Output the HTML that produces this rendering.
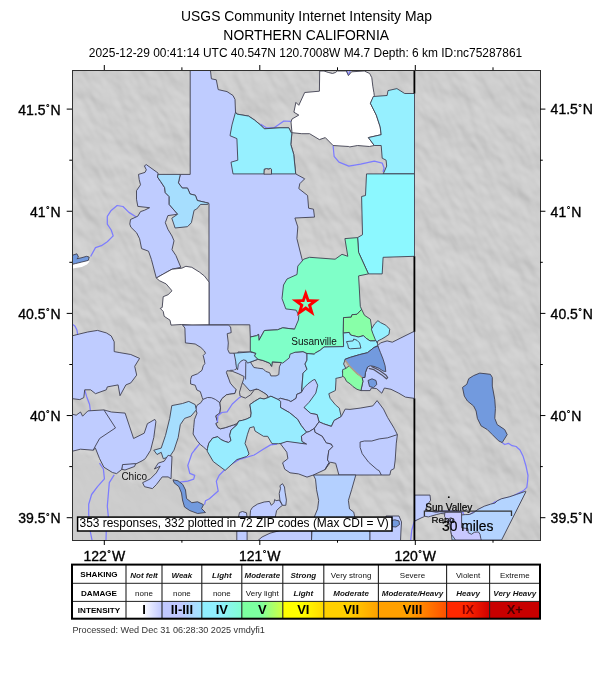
<!DOCTYPE html>
<html><head><meta charset="utf-8"><title>USGS Community Internet Intensity Map</title>
<style>html,body{margin:0;padding:0;background:#fff;} body{width:612px;height:684px;position:relative;overflow:hidden;font-family:"Liberation Sans",Arial,sans-serif;}</style>
</head><body>
<svg width="612" height="684" viewBox="0 0 612 684" style="position:absolute;left:0;top:0"><defs>
<filter id="relief" x="0" y="0" width="100%" height="100%" color-interpolation-filters="sRGB">
 <feTurbulence type="fractalNoise" baseFrequency="0.045 0.028" numOctaves="3" seed="7" result="n"/>
 <feDiffuseLighting in="n" surfaceScale="3" lighting-color="#ffffff" diffuseConstant="1" result="l">
   <feDistantLight azimuth="315" elevation="50"/>
 </feDiffuseLighting>
 <feColorMatrix in="l" type="matrix" values="0.2 0 0 0 0.652  0.2 0 0 0 0.652  0.2 0 0 0 0.652  0 0 0 0 1"/>
</filter>
<pattern id="hs" patternUnits="userSpaceOnUse" x="0" y="0" width="612" height="684">
 <rect x="72" y="70" width="468" height="470" fill="#cccccc"/>
 <g transform="rotate(-28 306 305)"><rect x="-60" y="-60" width="732" height="732" filter="url(#relief)" opacity="1"/></g>
 <polygon points="72,452 100,462 140,488 172,476 200,500 228,540 72,540" fill="#cccccc" opacity="0.75"/>
</pattern>
<clipPath id="mapclip"><rect x="72" y="70" width="468" height="470"/></clipPath>
</defs><rect x="0" y="0" width="612" height="684" fill="#ffffff"/><g clip-path="url(#mapclip)"><rect x="72" y="70" width="468" height="470" fill="url(#hs)"/><polyline points="136.7,217.3 128.9,212.4 123.0,206.5 117.1,205.5 111.2,210.4 107.3,216.3 107.3,224.1 111.2,230.0 113.2,235.9 107.3,241.8 101.4,245.7 95.5,247.6 90.6,256.5" fill="none" stroke="#7c7cff" stroke-width="1.25" stroke-linejoin="round"/><polyline points="346.8,70.0 348.4,75.6 350.5,70.0" fill="none" stroke="#7c7cff" stroke-width="1.25" stroke-linejoin="round"/><polyline points="260.4,123.9 266.3,127.8 274.1,127.8 283.9,121.0 290.8,121.4" fill="none" stroke="#7c7cff" stroke-width="1.25" stroke-linejoin="round"/><polyline points="333.1,145.5 334.1,156.3 339.0,162.2 348.8,166.1 360.6,164.1 374.3,161.2 382.2,163.1 384.1,168.0 383.1,172.0" fill="none" stroke="#7c7cff" stroke-width="1.25" stroke-linejoin="round"/><polyline points="99.5,463.1 103.4,469.0 104.4,478.8 97.5,486.7 91.6,494.5 88.7,504.3 88.7,514.1 90.0,530.0 92.0,540.0" fill="none" stroke="#7c7cff" stroke-width="1.25" stroke-linejoin="round"/><polyline points="114.2,474.9 109.3,482.7 108.3,494.5 107.3,506.3 108.3,516.1 106.3,529.8 106.0,540.0" fill="none" stroke="#7c7cff" stroke-width="1.25" stroke-linejoin="round"/><polyline points="194.4,450.0 199.6,443.9 191.8,453.7 187.8,465.5 189.8,473.3 194.7,475.3 193.7,479.2 187.8,481.2 180.0,482.2" fill="none" stroke="#7c7cff" stroke-width="1.25" stroke-linejoin="round"/><polyline points="277.1,444.1 270.6,444.9 262.4,449.8 254.2,455.0 238.8,459.6 229.0,465.5 219.2,475.3 216.3,481.2 218.2,491.0 209.4,498.8 205.5,500.8 204.5,504.7" fill="none" stroke="#7c7cff" stroke-width="1.25" stroke-linejoin="round"/><polyline points="502.2,442.6 504.7,444.5 508.4,443.3 512.1,445.7 516.1,446.5 520.0,450.0 523.2,456.6 526.0,466.0 528.0,475.5 527.5,482.0 526.8,487.4 523.2,490.9 511.4,496.9 501.9,499.2 494.8,502.1 490.0,505.2 480.6,508.7 471.1,513.5 468.6,515.1 464.0,515.8 462.9,512.3 452.3,511.0 447.4,511.1 440.3,511.1 433.2,512.3 426.1,513.5 419.0,517.1 414.2,521.8 411.8,530.0 410.7,540.0" fill="none" stroke="#7c7cff" stroke-width="1.25" stroke-linejoin="round"/><polyline points="72.0,324.1 74.9,326.1 76.9,330.0 77.9,335.9 75.9,339.8" fill="none" stroke="#7c7cff" stroke-width="1.25" stroke-linejoin="round"/><polyline points="84.7,389.8 86.7,396.7 89.6,404.5 90.6,412.4" fill="none" stroke="#7c7cff" stroke-width="1.25" stroke-linejoin="round"/><polygon points="190.2,70.0 210.4,70.0 211.4,78.8 216.3,79.8 218.2,89.6 227.0,91.6 233.0,95.5 235.0,99.4 235.5,112.2 236.9,114.1 248.6,116.1 254.5,120.0 260.4,124.9 264.3,128.8 280.0,127.8 288.8,127.8 291.8,133.7 290.8,144.5 293.7,154.3 295.7,173.9 304.7,178.8 299.8,183.7 298.8,188.6 307.6,195.5 308.6,208.2 313.5,209.2 314.5,217.1 294.9,218.0 297.8,226.9 296.9,238.6 301.8,258.2 305.0,270.0 305.0,325.0 294.5,329.2 282.7,327.8 277.5,329.8 264.4,330.5 259.0,340.3 258.6,334.4 256.6,335.7 250.3,337.0 249.8,324.8 209.0,324.8 209.0,203.5 208.4,203.1 205.8,202.5 197.3,200.5 195.4,195.3 190.1,194.0 187.5,188.1 182.3,188.1 178.4,182.9 180.3,174.4 190.2,174.4" fill="#bfccff" stroke="#404050" stroke-width="0.9" stroke-linejoin="round"/><polygon points="146.3,164.6 158.1,173.1 157.5,177.0 160.7,181.6 164.6,187.5 165.3,192.7 169.2,196.6 169.2,204.4 173.1,209.0 177.7,214.2 167.9,215.6 165.3,222.7 167.9,229.3 172.0,236.0 174.0,240.8 172.0,249.6 175.9,255.5 180.8,267.3 172.0,269.2 163.2,274.1 156.3,278.0 151.4,259.4 148.5,251.2 141.6,248.6 139.6,238.8 136.7,232.9 130.8,227.1 129.8,224.1 130.5,219.5 137.8,216.2 140.5,211.6 144.4,210.3 149.6,207.7 137.8,206.4 136.5,199.2 136.5,190.7 140.5,184.8 139.2,179.6 138.5,174.4 145.0,172.4 146.3,169.8 144.4,165.9" fill="#bfccff" stroke="#404050" stroke-width="0.9" stroke-linejoin="round"/><polygon points="158.1,174.4 180.3,174.4 178.4,182.9 182.3,188.1 187.5,188.1 190.1,194.0 195.4,195.3 197.3,200.5 205.8,202.5 208.4,203.1 207.8,204.4 200.6,204.4 196.7,209.0 194.1,210.3 191.4,222.7 187.5,226.7 175.1,228.0 171.8,218.2 177.7,214.2 173.1,209.0 169.2,204.4 169.2,196.6 165.3,192.7 164.6,187.5 160.7,181.6 157.5,177.0" fill="#a6defe" stroke="#404050" stroke-width="0.9" stroke-linejoin="round"/><polygon points="235.5,112.2 236.9,114.1 248.6,116.1 254.5,120.0 260.4,124.9 264.3,128.8 280.0,127.8 288.8,127.8 291.8,133.7 290.8,144.5 293.7,154.3 295.7,173.9 271.2,173.9 271.2,169.0 264.3,169.0 264.3,173.9 233.0,173.9 231.0,162.2 237.8,160.2 236.9,138.6 230.0,135.7 232.0,124.9" fill="#96f0ff" stroke="#404050" stroke-width="0.9" stroke-linejoin="round"/><polygon points="264.0,174.2 264.3,169.5 266.5,168.6 268.5,169.2 270.5,168.4 271.5,169.5 271.5,174.2" fill="url(#hs)" stroke="#404050" stroke-width="0.9" stroke-linejoin="round"/><polygon points="319.7,71.0 324.0,71.0 328.2,72.4 332.5,73.5 335.7,72.4 337.2,71.0 346.3,71.0 348.4,75.6 351.6,71.8 364.3,71.0 369.7,73.5 371.8,77.7 372.8,86.2 373.9,92.6 374.3,95.5 370.4,103.3 376.3,115.1 380.2,126.9 381.2,134.7 368.4,137.6 374.3,145.5 369.4,146.5 357.6,145.5 349.8,146.9 348.8,146.5 333.1,145.5 325.3,137.6 319.4,139.6 309.6,133.7 301.8,133.7 292.0,132.7 291.0,122.0 292.0,119.0 298.8,115.1 293.9,112.2 295.9,102.4 298.8,105.3 304.7,92.5 319.4,91.2" fill="#ffffff" stroke="#404050" stroke-width="0.9" stroke-linejoin="round"/><polygon points="370.4,103.3 373.3,96.5 387.1,95.5 388.0,90.6 396.9,88.6 404.7,93.5 414.5,93.5 414.5,173.9 383.1,173.9 384.1,172.0 386.7,166.1 386.1,160.2 382.2,158.2 381.2,145.5 374.3,145.5 368.4,137.6 381.2,134.7 380.2,126.9 376.3,115.1" fill="#96f0ff" stroke="#404050" stroke-width="0.9" stroke-linejoin="round"/><polygon points="366.5,173.9 414.5,173.9 414.5,256.3 383.1,257.3 382.2,273.9 368.4,273.9 358.6,252.4 357.6,237.6 362.5,234.7 361.6,196.5 365.5,195.5" fill="#8cf8ff" stroke="#404050" stroke-width="0.9" stroke-linejoin="round"/><polygon points="156.3,278.0 163.2,274.1 172.0,269.2 181.8,268.2 185.9,266.3 191.8,267.3 199.6,272.2 204.5,276.1 209.0,282.0 209.0,324.8 192.0,325.1 181.8,324.5 171.0,325.1 170.0,320.2 164.2,316.3 163.2,311.4 160.2,308.4 162.2,307.5 163.2,296.7 168.1,294.7 172.0,290.8 166.1,283.9 159.3,280.6" fill="#ffffff" stroke="#404050" stroke-width="0.9" stroke-linejoin="round"/><polygon points="72.0,262.5 81.8,261.0 88.3,259.4 89.5,261.5 87.0,264.4 81.8,266.9 75.3,267.9 72.0,268.7" fill="#ffffff"/><polygon points="72.0,255.4 76.9,253.8 78.5,257.1 76.9,258.7 81.0,257.9 86.7,256.3 89.2,257.1 88.3,260.4 81.8,262.0 75.3,263.6 72.0,264.4" fill="#729ade" stroke="#404050" stroke-width="0.9" stroke-linejoin="round"/><polygon points="238.0,352.0 290.0,352.0 295.2,352.2 303.1,351.6 307.0,353.5 307.0,360.1 305.0,364.0 307.0,369.2 303.1,373.1 302.4,381.0 301.4,392.4 296.8,394.4 296.1,398.3 290.9,401.6 288.3,400.3 283.1,399.0 280.5,398.3 278.1,399.5 270.9,396.2 268.3,397.5 267.0,394.9 263.1,392.3 256.5,389.0 250.0,391.0 240.0,380.0 238.0,370.0" fill="#b4d0ff" stroke="#404050" stroke-width="0.9" stroke-linejoin="round"/><polygon points="182.6,325.1 228.3,325.1 230.6,326.9 231.2,332.6 227.2,333.7 228.3,342.9 227.8,349.7 229.5,353.2 234.1,353.2 235.8,357.7 236.3,364.6 237.5,368.0 234.1,370.3 230.6,370.3 227.2,372.6 228.3,377.2 231.8,381.8 234.1,386.3 236.2,389.6 234.9,393.5 229.7,394.2 226.4,394.8 221.8,398.8 219.9,402.7 220.5,407.9 219.9,413.1 215.9,415.8 216.6,419.0 217.9,422.3 215.9,423.6 217.9,427.5 220.5,428.8 225.8,427.5 229.7,426.2 233.6,424.9 236.9,424.9 231.0,430.1 229.7,435.4 231.0,440.6 228.4,442.5 224.4,441.2 220.5,439.3 217.9,436.7 212.7,438.0 208.8,443.2 207.5,448.4 206.8,450.0 203.5,447.1 200.3,444.5 197.0,440.6 193.1,434.0 193.7,427.5 194.4,419.7 197.0,413.1 195.7,409.2 197.0,405.3 200.9,402.7 202.9,399.4 202.2,397.5 200.3,391.6 196.9,390.0 195.2,385.2 190.6,384.0 190.6,379.5 191.7,376.0 197.5,373.8 202.0,370.3 203.2,365.8 204.9,363.5 204.3,360.0 203.2,355.5 205.5,353.2 204.3,350.9 200.9,347.5 195.2,344.0 185.4,342.9 184.9,328.0" fill="#bfccff" stroke="#404050" stroke-width="0.9" stroke-linejoin="round"/><polygon points="236.5,366.0 239.3,361.2 241.3,359.2 244.2,359.6 246.2,362.1 245.6,379.5 243.4,379.8 244.1,376.5 238.8,373.9 232.3,371.3 234.1,370.3 237.3,370.2" fill="#bfccff"/><polygon points="250.5,362.3 253.5,361.0 257.9,359.3 263.1,360.6 269.7,363.2 271.6,366.3 272.3,362.0 281.4,362.6 279.4,366.8 278.8,374.6 276.1,375.9 270.9,375.9 269.6,372.7 265.7,371.4 263.1,368.8 257.8,368.1 253.9,367.5" fill="url(#hs)" stroke="#404050" stroke-width="0.9" stroke-linejoin="round"/><polygon points="226.4,372.6 227.1,370.7 232.3,371.3 238.8,373.9 244.1,376.5 243.4,379.8 241.4,385.7 239.5,392.2 240.1,396.1 245.4,398.1 250.6,394.8 254.5,389.6 258.0,389.3 263.1,392.3 267.0,394.9 268.3,397.5 264.0,399.0 260.0,398.1 254.5,401.4 249.9,404.6 251.2,413.1 250.6,417.1 246.7,419.0 242.7,420.3 238.8,421.0 236.9,423.6 233.6,424.9 229.7,426.2 225.8,427.5 220.5,428.8 217.9,427.5 215.9,423.6 217.9,422.3 216.6,419.0 215.9,415.8 219.9,413.1 220.5,407.9 219.9,402.7 221.8,398.8 226.4,394.8 229.7,394.2 234.9,393.5 236.2,389.6 233.6,387.0 230.3,383.1 228.4,377.8" fill="url(#hs)" stroke="#404050" stroke-width="0.9" stroke-linejoin="round"/><polygon points="234.1,353.2 250.1,352.0 255.9,353.3 254.6,355.9 257.9,359.2 252.7,361.2 247.5,363.1 246.1,360.5 243.5,359.9 240.9,361.2 238.3,364.4 237.6,369.7 236.3,367.1 235.8,361.8" fill="#a6defe" stroke="#404050" stroke-width="0.9" stroke-linejoin="round"/><polygon points="297.8,266.1 303.7,259.2 309.6,257.3 335.1,259.2 342.0,254.3 347.8,256.3 344.9,238.6 357.6,237.6 358.6,252.4 368.4,273.9 358.6,275.9 359.5,292.0 360.3,306.3 361.6,309.4 357.0,314.3 352.0,314.7 351.2,317.2 343.5,317.6 343.3,333.1 343.6,346.6 333.1,347.0 324.0,347.0 320.1,350.3 315.5,352.9 314.2,354.2 307.0,353.5 303.1,351.6 295.2,352.2 290.0,354.2 289.3,357.9 282.7,363.1 281.4,362.5 272.3,361.8 271.6,366.4 269.7,363.1 263.1,360.5 257.9,359.2 254.6,355.9 255.9,353.3 250.3,351.4 250.3,337.0 256.6,335.7 258.6,334.4 259.0,340.3 264.4,330.5 277.5,329.8 282.7,327.8 294.5,329.2 298.4,320.0 298.8,315.4 296.2,310.2 285.8,308.9 282.0,298.5 283.5,285.0 287.0,279.0 297.0,274.5" fill="#7fffc8" stroke="#404050" stroke-width="0.9" stroke-linejoin="round"/><polygon points="343.5,317.6 351.2,317.2 352.0,314.7 357.0,314.3 361.6,309.4 364.5,315.3 370.4,319.2 372.0,329.8 374.0,333.1 376.6,338.3 375.3,340.9 370.1,340.9 366.1,338.3 363.5,335.7 358.3,337.0 355.7,336.3 350.5,335.0 349.2,332.4 343.3,333.1" fill="#88ffa8" stroke="#404050" stroke-width="0.9" stroke-linejoin="round"/><polygon points="307.0,353.5 314.2,354.2 315.5,352.9 320.1,350.3 324.0,347.0 343.6,346.6 343.3,333.1 349.2,332.4 350.5,335.0 355.7,336.3 358.3,337.0 363.5,335.7 366.1,338.3 370.1,340.9 375.3,340.9 376.6,338.3 377.3,342.9 377.9,345.5 374.0,347.5 367.5,352.7 359.6,354.6 350.5,357.3 345.2,359.2 343.6,364.0 346.2,369.2 342.3,371.8 344.9,375.1 341.6,377.1 335.8,378.4 336.0,380.0 335.4,390.5 328.8,393.7 330.1,398.3 335.4,404.8 339.3,408.1 341.2,416.6 334.1,420.5 331.4,426.4 323.6,423.8 319.0,421.8 317.1,414.6 310.5,413.3 304.0,407.5 301.4,392.4 301.8,391.4 302.4,381.0 303.1,373.1 307.0,369.2 305.0,364.0 307.0,360.1" fill="#96f0ff" stroke="#404050" stroke-width="0.9" stroke-linejoin="round"/><polygon points="346.5,341.6 353.1,340.9 353.7,339.0 357.0,340.3 359.6,342.9 360.9,348.1 350.5,348.8 348.5,348.1 347.8,344.8" fill="#96f0ff" stroke="#404050" stroke-width="0.9" stroke-linejoin="round"/><polygon points="377.9,320.7 380.5,322.6 385.8,325.2 389.7,329.2 389.0,334.4 385.1,337.0 381.8,339.0 377.9,340.9 377.3,342.9 375.3,339.6 372.7,333.1 371.4,329.2 374.6,323.9" fill="#96f0ff" stroke="#404050" stroke-width="0.9" stroke-linejoin="round"/><polygon points="377.9,345.5 380.5,342.9 387.1,340.9 392.3,342.2 400.1,338.3 413.2,331.8 414.5,331.8 414.5,398.4 405.4,397.1 398.8,393.2 391.0,389.3 384.4,388.0 381.8,393.2 376.6,388.6 371.4,388.0 370.1,390.6 360.9,390.6 362.9,381.4 362.2,377.5 364.8,377.5 365.5,372.3 367.5,367.1 375.0,360.0 378.0,350.0" fill="#bfccff" stroke="#404050" stroke-width="0.9" stroke-linejoin="round"/><polygon points="342.6,369.7 345.9,368.4 349.2,365.8 355.7,372.3 362.2,377.5 362.9,381.4 360.9,390.6 357.0,389.3 353.1,386.7 350.5,384.1 346.5,381.4 344.6,377.5 342.6,376.2" fill="#88ffa8" stroke="#404050" stroke-width="0.9" stroke-linejoin="round"/><polygon points="345.2,359.2 350.5,357.3 359.6,354.6 367.5,352.7 374.0,347.5 377.9,346.1 380.5,352.7 383.1,359.2 385.1,365.8 385.8,371.6 383.1,371.0 379.2,368.4 374.0,366.4 370.1,365.8 367.5,367.1 365.5,372.3 364.8,377.5 362.2,377.5 355.7,372.3 349.2,365.8 345.2,360.5" fill="#729ade" stroke="#404050" stroke-width="0.9" stroke-linejoin="round"/><polygon points="368.0,380.5 372.0,378.8 376.0,380.5 376.8,384.5 373.5,387.6 369.5,386.5" fill="#729ade" stroke="#404050" stroke-width="0.9" stroke-linejoin="round"/><polygon points="315.0,379.5 317.7,385.2 315.8,393.1 309.2,402.2 304.0,407.5 310.5,413.3 317.1,414.6 319.0,421.8 314.4,428.4 309.2,431.6 306.6,432.3 301.4,425.8 297.5,419.2 289.6,412.7 280.5,407.5 277.8,399.6 280.5,398.3 283.1,399.0 288.3,400.3 290.9,401.6 296.1,398.3 296.8,394.4 301.4,392.4 304.0,387.8 307.9,383.9 313.1,380.0" fill="#bfccff" stroke="#404050" stroke-width="0.9" stroke-linejoin="round"/><polygon points="236.9,424.9 238.8,421.0 242.7,420.3 246.7,419.0 250.6,417.1 251.2,413.1 249.9,404.6 254.5,401.4 260.0,398.1 264.0,399.0 268.3,397.5 270.9,396.2 278.1,399.5 280.7,401.4 280.5,407.5 289.6,412.7 297.5,419.2 301.4,425.8 306.6,432.3 301.4,436.2 302.0,441.4 306.6,444.1 288.9,442.7 278.3,443.7 272.0,443.7 267.7,436.3 263.5,436.3 255.0,431.0 253.9,426.7 249.7,427.8 247.5,434.2 245.0,443.5 247.0,448.0 249.0,454.0 246.5,456.5 236.9,459.6 225.1,470.4 213.3,461.6 207.2,451.2 207.5,448.4 208.8,443.2 212.7,438.0 217.9,436.7 220.5,439.3 224.4,441.2 228.4,442.5 231.0,440.6 229.7,435.4 231.0,430.1" fill="#98ecff" stroke="#404050" stroke-width="0.9" stroke-linejoin="round"/><polygon points="306.6,432.3 309.2,431.6 314.4,428.4 315.1,432.3 322.3,436.2 326.2,442.7 331.4,444.1 332.7,446.7 328.8,450.6 327.5,460.0 329.3,462.2 325.0,469.6 313.4,475.0 307.0,477.1 298.5,473.9 290.0,472.8 284.7,469.2 282.6,462.8 287.9,458.6 286.8,452.2 280.4,443.7 287.0,441.4 306.6,444.1 302.0,441.4 301.4,436.2" fill="#bfccff" stroke="#404050" stroke-width="0.9" stroke-linejoin="round"/><polygon points="314.4,428.4 319.0,421.8 323.6,423.8 331.4,426.4 334.1,420.5 341.2,416.6 345.2,409.1 350.0,409.4 360.1,408.1 372.8,405.9 377.1,400.6 383.5,409.1 387.7,417.6 394.1,428.2 397.4,434.6 396.3,443.1 395.2,460.1 394.1,468.6 390.9,470.3 389.8,475.0 338.9,475.0 335.7,463.3 330.4,462.2 325.0,469.6 329.3,462.2 327.5,460.0 328.8,450.6 332.7,446.7 331.4,444.1 326.2,442.7 322.3,436.2 315.1,432.3" fill="#bfccff" stroke="#404050" stroke-width="0.9" stroke-linejoin="round"/><polygon points="313.4,475.0 355.8,475.0 351.6,489.8 348.4,500.4 349.5,508.9 353.7,512.1 355.0,518.0 370.0,530.0 370.0,541.0 311.5,541.0 312.0,530.0 313.0,520.0 317.6,508.9 318.7,500.4 316.6,489.8 315.5,479.2" fill="#b4d0ff" stroke="#404050" stroke-width="0.9" stroke-linejoin="round"/><polygon points="236.8,530.0 247.1,530.0 247.1,541.0 236.8,541.0" fill="#bfccff" stroke="#404050" stroke-width="0.9" stroke-linejoin="round"/><polygon points="282.0,530.0 311.5,530.0 311.5,541.0 257.4,541.0 262.0,537.0 270.0,533.2" fill="#bfccff" stroke="#404050" stroke-width="0.9" stroke-linejoin="round"/><polygon points="370.0,530.0 386.0,530.0 386.0,516.0 399.0,516.0 401.5,522.0 401.0,530.0 400.5,541.0 370.0,541.0" fill="#bfccff" stroke="#404050" stroke-width="0.9" stroke-linejoin="round"/><polygon points="389.0,523.0 391.0,520.5 395.0,519.8 399.0,521.0 399.5,524.5 396.0,527.0 391.0,526.5" fill="#729ade" stroke="#404050" stroke-width="0.9" stroke-linejoin="round"/><polygon points="72.0,335.9 79.8,333.9 87.7,332.0 97.5,330.4 106.3,332.9 111.2,335.9 114.2,341.8 114.2,351.6 119.1,352.5 130.8,354.5 139.6,358.4 134.7,366.3 136.7,375.1 130.8,382.9 125.9,384.9 120.0,395.7 118.1,384.9 107.3,386.9 106.3,389.8 95.5,393.7 90.6,389.8 84.7,389.8 83.8,397.6 79.8,399.6 72.0,398.6" fill="#bfccff" stroke="#404050" stroke-width="0.9" stroke-linejoin="round"/><polygon points="72.0,414.1 76.2,415.2 80.5,412.0 82.6,416.2 87.9,410.9 103.9,409.9 111.3,412.0 125.1,413.1 133.6,438.5 144.2,433.2 147.4,423.7 154.8,419.4 155.9,421.6 153.8,437.5 150.6,450.2 145.3,458.7 142.1,460.8 135.7,464.0 123.0,465.1 121.9,469.3 116.6,473.6 112.4,472.5 103.9,467.2 99.6,458.7 95.4,448.1 93.2,450.2 80.5,449.2 72.0,451.3" fill="#bfccff" stroke="#404050" stroke-width="0.9" stroke-linejoin="round"/><polygon points="122.5,464.6 135.7,463.6 134.5,466.5 125.0,470.0 121.9,469.3" fill="#bfccff" stroke="#404050" stroke-width="0.9" stroke-linejoin="round"/><polygon points="153.8,450.2 161.2,448.1 165.5,435.4 169.7,418.4 171.8,405.6 182.5,403.5 188.8,401.4 195.2,404.6 196.3,409.9 190.9,416.2 184.6,418.4 180.3,424.7 178.2,437.5 174.0,450.2 169.7,456.6 163.3,458.7 161.2,452.3 157.0,454.5" fill="#a6defe" stroke="#404050" stroke-width="0.9" stroke-linejoin="round"/><polygon points="142.6,482.7 150.4,478.8 156.3,472.9 160.2,466.1 154.4,469.0 158.3,463.1 164.2,461.2 168.1,455.3 172.0,456.3 171.0,478.8 168.1,476.9 162.2,476.9 156.3,484.7 152.4,488.6 144.5,486.7" fill="#bfccff" stroke="#404050" stroke-width="0.9" stroke-linejoin="round"/><polygon points="173.0,479.8 178.0,480.8 182.8,484.5 185.5,490.0 186.5,498.5 191.8,502.7 197.6,501.8 203.5,504.7 201.6,508.6 205.5,512.5 197.6,513.5 189.8,510.6 184.5,507.0 182.5,500.0 181.5,493.0 178.9,486.7 174.0,482.7" fill="#729ade" stroke="#404050" stroke-width="0.9" stroke-linejoin="round"/><polygon points="250.5,510.5 252.5,507.3 257.7,504.0 264.2,502.0 269.4,501.4 271.4,505.3 274.0,502.7 274.7,499.4 276.0,500.7 279.2,500.1 282.5,505.3 279.9,507.3 276.6,510.5 275.3,517.0 250.0,517.0" fill="#bfccff" stroke="#404050" stroke-width="0.9" stroke-linejoin="round"/><polygon points="238.5,517.0 239.5,512.5 242.5,511.5 246.5,512.8 247.0,517.0" fill="#bfccff" stroke="#404050" stroke-width="0.9" stroke-linejoin="round"/><polygon points="279.9,485.7 282.5,483.7 284.5,487.0 285.1,492.2 286.4,500.1 285.8,505.3 282.5,505.3 279.9,500.1 279.2,493.5 280.5,488.3" fill="#bccfff" stroke="#404050" stroke-width="0.9" stroke-linejoin="round"/><polygon points="462.5,387.4 464.3,396.1 467.4,401.0 473.6,406.0 476.1,411.0 477.4,418.4 481.1,425.9 487.3,429.6 492.3,434.6 498.5,440.8 502.2,442.6 507.2,434.6 504.7,429.6 497.2,424.6 494.8,418.4 495.4,408.5 494.8,399.8 492.3,386.1 492.3,377.4 490.4,374.3 479.8,373.1 473.6,375.6 468.7,378.7 466.8,384.3" fill="#729ade" stroke="#404050" stroke-width="0.9" stroke-linejoin="round"/><polygon points="461.0,515.0 465.2,514.6 469.5,514.5 473.7,512.6 478.0,509.4 484.3,506.2 490.7,504.1 495.0,503.0 497.1,500.9 501.3,498.8 509.8,496.7 516.2,494.5 525.5,491.3 526.0,491.6 501.6,540.0 452.0,540.0 451.0,531.0 455.8,527.7 460.3,527.7 460.9,518.6" fill="#b4d4ff" stroke="#404050" stroke-width="0.9" stroke-linejoin="round"/><polygon points="414.6,495.1 430.0,495.1 430.6,500.3 428.9,502.6 427.2,504.9 425.4,510.6 430.0,511.2 436.3,512.3 439.7,511.7 444.9,512.3 447.7,512.3 446.0,514.0 440.9,513.5 436.3,514.6 430.6,516.3 428.3,516.9 424.9,516.3 421.0,518.0 418.0,519.5 414.6,521.0" fill="#bfccff" stroke="#404050" stroke-width="0.9" stroke-linejoin="round"/><polygon points="444.9,512.3 461.6,512.3 461.6,527.8 468.0,528.6 468.2,532.7 471.5,534.3 474.3,532.3 478.4,531.9 480.0,534.3 480.8,538.4 481.2,540.0 455.5,540.0 451.4,534.3 450.6,530.2 449.8,523.7 446.5,519.6 444.5,516.3" fill="#c8c8ff" stroke="#404050" stroke-width="0.9" stroke-linejoin="round"/><polyline points="202.9,399.4 207.5,397.5 211.4,397.7 215.3,399.4 219.9,402.7" fill="none" stroke="#404050" stroke-width="0.9" stroke-linejoin="round"/><polyline points="245.8,361.5 245.6,379.5" fill="none" stroke="#404050" stroke-width="0.9" stroke-linejoin="round"/><polyline points="368.8,368.4 374.0,369.7 381.8,374.9 386.4,378.8 387.7,377.5 385.8,374.9 379.2,370.3 371.4,366.4" fill="none" stroke="#505060" stroke-width="1.2" stroke-linejoin="round"/><polyline points="345.2,360.5 349.2,365.8 355.7,372.3 362.2,377.5" fill="none" stroke="#b4a08c" stroke-width="1.6" stroke-linejoin="round"/><polyline points="360.1,447.3 360.1,442.0 364.3,441.0 371.8,441.0 379.2,438.9 387.7,437.8 397.4,434.6" fill="none" stroke="#404050" stroke-width="0.9" stroke-linejoin="round"/><polyline points="360.1,447.3 362.2,453.7 368.6,462.2 377.1,469.6 379.2,470.7 381.3,475.0" fill="none" stroke="#404050" stroke-width="0.9" stroke-linejoin="round"/><polyline points="103.9,409.9 115.5,427.9 99.6,438.5 95.4,446.0 93.2,450.2" fill="none" stroke="#404050" stroke-width="0.9" stroke-linejoin="round"/><polyline points="217.3,422.3 217.9,415.8 221.8,412.5 227.1,411.8 232.3,404.0 238.8,398.1 240.8,396.8" fill="none" stroke="#7c7cff" stroke-width="1.25" stroke-linejoin="round"/><polyline points="414.4,70 414.4,93.5" stroke="#000" stroke-width="1.8" fill="none"/><polyline points="414.4,256.3 414.4,331.8" stroke="#000" stroke-width="1.8" fill="none"/><polyline points="414.4,398.4 414.4,540" stroke="#000" stroke-width="1.8" fill="none"/><polygon points="305.7,289.2 309.2,299.2 319.7,299.4 311.3,305.8 314.4,315.9 305.7,309.9 297.0,315.9 300.1,305.8 291.7,299.4 302.2,299.2" fill="#ff0000"/><polygon points="305.7,298.1 307.1,302.1 311.3,302.1 307.9,304.7 309.2,308.7 305.7,306.3 302.2,308.7 303.5,304.7 300.1,302.1 304.3,302.1" fill="#7fffc8"/><text x="291.3" y="344.6" font-size="10" fill="#111">Susanville</text><text x="121.4" y="479.7" font-size="10" fill="#111">Chico</text><text x="425.3" y="510.8" font-size="10" fill="#000" stroke="#000" stroke-width="0.2">Sun Valley</text><text x="431.5" y="522.5" font-size="9.7" fill="#000" stroke="#000" stroke-width="0.2">Reno</text><circle cx="448.8" cy="497.2" r="0.9" fill="#000"/><circle cx="450.8" cy="519.8" r="1.9" fill="none" stroke="#222" stroke-width="0.8"/><polyline points="424.4,516 424.4,511.2 511.5,511.2 511.5,516" fill="none" stroke="#333" stroke-width="1.3"/><text x="442" y="531" font-size="13.8" fill="#000" stroke="#000" stroke-width="0.2">30 miles</text><rect x="77.6" y="517.1" width="314.4" height="13.9" fill="#fff" stroke="#000" stroke-width="1.5"/><text x="79.5" y="527.2" font-size="11.95" fill="#000">353 responses, 332 plotted in 72 ZIP codes (Max CDI = V)</text></g><rect x="72.5" y="70.5" width="468" height="470" fill="none" stroke="#303030" stroke-width="1"/><line x1="104.3" y1="65" x2="104.3" y2="70" stroke="#000" stroke-width="1"/><line x1="104.3" y1="540" x2="104.3" y2="545" stroke="#000" stroke-width="1"/><line x1="259.8" y1="65" x2="259.8" y2="70" stroke="#000" stroke-width="1"/><line x1="259.8" y1="540" x2="259.8" y2="545" stroke="#000" stroke-width="1"/><line x1="415.3" y1="65" x2="415.3" y2="70" stroke="#000" stroke-width="1"/><line x1="415.3" y1="540" x2="415.3" y2="545" stroke="#000" stroke-width="1"/><line x1="66.7" y1="109.1" x2="72" y2="109.1" stroke="#000" stroke-width="1"/><line x1="540" y1="109.1" x2="545.4" y2="109.1" stroke="#000" stroke-width="1"/><line x1="66.7" y1="211.25" x2="72" y2="211.25" stroke="#000" stroke-width="1"/><line x1="540" y1="211.25" x2="545.4" y2="211.25" stroke="#000" stroke-width="1"/><line x1="66.7" y1="313.4" x2="72" y2="313.4" stroke="#000" stroke-width="1"/><line x1="540" y1="313.4" x2="545.4" y2="313.4" stroke="#000" stroke-width="1"/><line x1="66.7" y1="415.55" x2="72" y2="415.55" stroke="#000" stroke-width="1"/><line x1="540" y1="415.55" x2="545.4" y2="415.55" stroke="#000" stroke-width="1"/><line x1="66.7" y1="517.7" x2="72" y2="517.7" stroke="#000" stroke-width="1"/><line x1="540" y1="517.7" x2="545.4" y2="517.7" stroke="#000" stroke-width="1"/><line x1="181.9" y1="67.3" x2="181.9" y2="70" stroke="#000" stroke-width="1"/><line x1="181.9" y1="540" x2="181.9" y2="542.7" stroke="#000" stroke-width="1"/><line x1="337.5" y1="67.3" x2="337.5" y2="70" stroke="#000" stroke-width="1"/><line x1="337.5" y1="540" x2="337.5" y2="542.7" stroke="#000" stroke-width="1"/><line x1="493.0" y1="67.3" x2="493.0" y2="70" stroke="#000" stroke-width="1"/><line x1="493.0" y1="540" x2="493.0" y2="542.7" stroke="#000" stroke-width="1"/><line x1="69.3" y1="160.2" x2="72" y2="160.2" stroke="#000" stroke-width="1"/><line x1="540" y1="160.2" x2="542.8" y2="160.2" stroke="#000" stroke-width="1"/><line x1="69.3" y1="262.3" x2="72" y2="262.3" stroke="#000" stroke-width="1"/><line x1="540" y1="262.3" x2="542.8" y2="262.3" stroke="#000" stroke-width="1"/><line x1="69.3" y1="364.5" x2="72" y2="364.5" stroke="#000" stroke-width="1"/><line x1="540" y1="364.5" x2="542.8" y2="364.5" stroke="#000" stroke-width="1"/><line x1="69.3" y1="466.6" x2="72" y2="466.6" stroke="#000" stroke-width="1"/><line x1="540" y1="466.6" x2="542.8" y2="466.6" stroke="#000" stroke-width="1"/></svg>
<svg width="612" height="684" viewBox="0 0 612 684" style="position:absolute;left:0;top:0" font-family="Liberation Sans, Arial, sans-serif"><text x="306.5" y="20.6" font-size="13.9" text-anchor="middle" font-weight="normal" font-style="normal" fill="#000">USGS Community Internet Intensity Map</text><text x="306.2" y="39.6" font-size="13.9" text-anchor="middle" font-weight="normal" font-style="normal" fill="#000">NORTHERN CALIFORNIA</text><text x="305.5" y="56.6" font-size="11.95" text-anchor="middle" font-weight="normal" font-style="normal" fill="#000">2025-12-29 00:41:14 UTC 40.547N 120.7008W M4.7 Depth: 6 km ID:nc75287861</text><text x="60.6" y="114.69999999999999" font-size="14" text-anchor="end" font-weight="normal" font-style="normal" fill="#000" stroke="#000" stroke-width="0.35">41.5<tspan font-size="9" dx="0.5" dy="-3.8">&#176;</tspan><tspan dx="0.9" dy="3.8">N</tspan></text><text x="550.6" y="114.39999999999999" font-size="14" text-anchor="start" font-weight="normal" font-style="normal" fill="#000" stroke="#000" stroke-width="0.35">41.5<tspan font-size="9" dx="0.5" dy="-3.8">&#176;</tspan><tspan dx="0.9" dy="3.8">N</tspan></text><text x="60.6" y="216.85" font-size="14" text-anchor="end" font-weight="normal" font-style="normal" fill="#000" stroke="#000" stroke-width="0.35">41<tspan font-size="9" dx="0.5" dy="-3.8">&#176;</tspan><tspan dx="0.9" dy="3.8">N</tspan></text><text x="550.6" y="216.55" font-size="14" text-anchor="start" font-weight="normal" font-style="normal" fill="#000" stroke="#000" stroke-width="0.35">41<tspan font-size="9" dx="0.5" dy="-3.8">&#176;</tspan><tspan dx="0.9" dy="3.8">N</tspan></text><text x="60.6" y="319.0" font-size="14" text-anchor="end" font-weight="normal" font-style="normal" fill="#000" stroke="#000" stroke-width="0.35">40.5<tspan font-size="9" dx="0.5" dy="-3.8">&#176;</tspan><tspan dx="0.9" dy="3.8">N</tspan></text><text x="550.6" y="318.7" font-size="14" text-anchor="start" font-weight="normal" font-style="normal" fill="#000" stroke="#000" stroke-width="0.35">40.5<tspan font-size="9" dx="0.5" dy="-3.8">&#176;</tspan><tspan dx="0.9" dy="3.8">N</tspan></text><text x="60.6" y="421.15000000000003" font-size="14" text-anchor="end" font-weight="normal" font-style="normal" fill="#000" stroke="#000" stroke-width="0.35">40<tspan font-size="9" dx="0.5" dy="-3.8">&#176;</tspan><tspan dx="0.9" dy="3.8">N</tspan></text><text x="550.6" y="420.85" font-size="14" text-anchor="start" font-weight="normal" font-style="normal" fill="#000" stroke="#000" stroke-width="0.35">40<tspan font-size="9" dx="0.5" dy="-3.8">&#176;</tspan><tspan dx="0.9" dy="3.8">N</tspan></text><text x="60.6" y="523.3000000000001" font-size="14" text-anchor="end" font-weight="normal" font-style="normal" fill="#000" stroke="#000" stroke-width="0.35">39.5<tspan font-size="9" dx="0.5" dy="-3.8">&#176;</tspan><tspan dx="0.9" dy="3.8">N</tspan></text><text x="550.6" y="523.0" font-size="14" text-anchor="start" font-weight="normal" font-style="normal" fill="#000" stroke="#000" stroke-width="0.35">39.5<tspan font-size="9" dx="0.5" dy="-3.8">&#176;</tspan><tspan dx="0.9" dy="3.8">N</tspan></text><text x="104.3" y="561" font-size="14" text-anchor="middle" font-weight="normal" font-style="normal" fill="#000" stroke="#000" stroke-width="0.35">122<tspan font-size="9" dx="0.5" dy="-3.8">&#176;</tspan><tspan dx="0.9" dy="3.8">W</tspan></text><text x="259.8" y="561" font-size="14" text-anchor="middle" font-weight="normal" font-style="normal" fill="#000" stroke="#000" stroke-width="0.35">121<tspan font-size="9" dx="0.5" dy="-3.8">&#176;</tspan><tspan dx="0.9" dy="3.8">W</tspan></text><text x="415.3" y="561" font-size="14" text-anchor="middle" font-weight="normal" font-style="normal" fill="#000" stroke="#000" stroke-width="0.35">120<tspan font-size="9" dx="0.5" dy="-3.8">&#176;</tspan><tspan dx="0.9" dy="3.8">W</tspan></text></svg>
<svg width="612" height="684" viewBox="0 0 612 684" style="position:absolute;left:0;top:0" font-family="Liberation Sans, Arial, sans-serif"><defs><linearGradient id="g0" x1="0" x2="1" y1="0" y2="0"><stop offset="0" stop-color="#ffffff"/><stop offset="0.45" stop-color="#ffffff"/><stop offset="1" stop-color="#c0c8ff"/></linearGradient><linearGradient id="g1" x1="0" x2="1" y1="0" y2="0"><stop offset="0" stop-color="#c0c8ff"/><stop offset="0.45" stop-color="#c0c8ff"/><stop offset="1" stop-color="#a0e6ff"/></linearGradient><linearGradient id="g2" x1="0" x2="1" y1="0" y2="0"><stop offset="0" stop-color="#90f0ff"/><stop offset="0.45" stop-color="#90f0ff"/><stop offset="1" stop-color="#80ffd0"/></linearGradient><linearGradient id="g3" x1="0" x2="1" y1="0" y2="0"><stop offset="0" stop-color="#7cffa0"/><stop offset="0.45" stop-color="#7cffa0"/><stop offset="1" stop-color="#d0ff40"/></linearGradient><linearGradient id="g4" x1="0" x2="1" y1="0" y2="0"><stop offset="0" stop-color="#ffff00"/><stop offset="0.45" stop-color="#ffff00"/><stop offset="1" stop-color="#ffd800"/></linearGradient><linearGradient id="g5" x1="0" x2="1" y1="0" y2="0"><stop offset="0" stop-color="#ffd000"/><stop offset="0.45" stop-color="#ffd000"/><stop offset="1" stop-color="#ffa000"/></linearGradient><linearGradient id="g6" x1="0" x2="1" y1="0" y2="0"><stop offset="0" stop-color="#ffa000"/><stop offset="0.45" stop-color="#ffa000"/><stop offset="1" stop-color="#ff5000"/></linearGradient><linearGradient id="g7" x1="0" x2="1" y1="0" y2="0"><stop offset="0" stop-color="#ff2800"/><stop offset="0.45" stop-color="#ff2800"/><stop offset="1" stop-color="#d00000"/></linearGradient><linearGradient id="g8" x1="0" x2="1" y1="0" y2="0"><stop offset="0" stop-color="#c80000"/><stop offset="0.45" stop-color="#c80000"/><stop offset="1" stop-color="#c80000"/></linearGradient></defs><rect x="72" y="564.6" width="468" height="54.10000000000002" fill="#fff"/><rect x="126" y="601.4" width="36" height="17.300000000000068" fill="url(#g0)"/><rect x="162" y="601.4" width="39.80000000000001" height="17.300000000000068" fill="url(#g1)"/><rect x="201.8" y="601.4" width="40.0" height="17.300000000000068" fill="url(#g2)"/><rect x="241.8" y="601.4" width="41.0" height="17.300000000000068" fill="url(#g3)"/><rect x="282.8" y="601.4" width="41.0" height="17.300000000000068" fill="url(#g4)"/><rect x="323.8" y="601.4" width="54.599999999999966" height="17.300000000000068" fill="url(#g5)"/><rect x="378.4" y="601.4" width="68.20000000000005" height="17.300000000000068" fill="url(#g6)"/><rect x="446.6" y="601.4" width="43.0" height="17.300000000000068" fill="url(#g7)"/><rect x="489.6" y="601.4" width="50.39999999999998" height="17.300000000000068" fill="url(#g8)"/><line x1="126" y1="564.6" x2="126" y2="618.7" stroke="#222" stroke-width="1.1"/><line x1="162" y1="564.6" x2="162" y2="618.7" stroke="#222" stroke-width="1.1"/><line x1="201.8" y1="564.6" x2="201.8" y2="618.7" stroke="#222" stroke-width="1.1"/><line x1="241.8" y1="564.6" x2="241.8" y2="618.7" stroke="#222" stroke-width="1.1"/><line x1="282.8" y1="564.6" x2="282.8" y2="618.7" stroke="#222" stroke-width="1.1"/><line x1="323.8" y1="564.6" x2="323.8" y2="618.7" stroke="#222" stroke-width="1.1"/><line x1="378.4" y1="564.6" x2="378.4" y2="618.7" stroke="#222" stroke-width="1.1"/><line x1="446.6" y1="564.6" x2="446.6" y2="618.7" stroke="#222" stroke-width="1.1"/><line x1="489.6" y1="564.6" x2="489.6" y2="618.7" stroke="#222" stroke-width="1.1"/><line x1="72" y1="583.3" x2="540" y2="583.3" stroke="#222" stroke-width="1"/><line x1="72" y1="601.4" x2="540" y2="601.4" stroke="#222" stroke-width="1"/><rect x="72" y="564.6" width="468" height="54.10000000000002" fill="none" stroke="#000" stroke-width="2"/><text x="99.0" y="577.1500000000001" font-size="8.1" font-weight="bold" text-anchor="middle">SHAKING</text><text x="99.0" y="595.55" font-size="8.1" font-weight="bold" text-anchor="middle">DAMAGE</text><text x="99.0" y="613.25" font-size="8.1" font-weight="bold" text-anchor="middle">INTENSITY</text><text x="144.0" y="577.75" font-size="8" text-anchor="middle" font-style="italic" font-weight="bold" fill="#111">Not felt</text><text x="144.0" y="596.05" font-size="8" text-anchor="middle" font-style="normal" font-weight="normal" fill="#111">none</text><text x="144.0" y="613.8499999999999" font-size="13" font-weight="bold" text-anchor="middle" fill="#000">I</text><text x="181.9" y="577.75" font-size="8" text-anchor="middle" font-style="italic" font-weight="bold" fill="#111">Weak</text><text x="181.9" y="596.05" font-size="8" text-anchor="middle" font-style="normal" font-weight="normal" fill="#111">none</text><text x="181.9" y="613.8499999999999" font-size="13" font-weight="bold" text-anchor="middle" fill="#000">II-III</text><text x="221.8" y="577.75" font-size="8" text-anchor="middle" font-style="italic" font-weight="bold" fill="#111">Light</text><text x="221.8" y="596.05" font-size="8" text-anchor="middle" font-style="normal" font-weight="normal" fill="#111">none</text><text x="221.8" y="613.8499999999999" font-size="13" font-weight="bold" text-anchor="middle" fill="#000">IV</text><text x="262.3" y="577.75" font-size="8" text-anchor="middle" font-style="italic" font-weight="bold" fill="#111">Moderate</text><text x="262.3" y="596.05" font-size="8" text-anchor="middle" font-style="normal" font-weight="normal" fill="#111">Very light</text><text x="262.3" y="613.8499999999999" font-size="13" font-weight="bold" text-anchor="middle" fill="#000">V</text><text x="303.3" y="577.75" font-size="8" text-anchor="middle" font-style="italic" font-weight="bold" fill="#111">Strong</text><text x="303.3" y="596.05" font-size="8" text-anchor="middle" font-style="italic" font-weight="bold" fill="#111">Light</text><text x="303.3" y="613.8499999999999" font-size="13" font-weight="bold" text-anchor="middle" fill="#000">VI</text><text x="351.1" y="577.75" font-size="8" text-anchor="middle" font-style="normal" font-weight="normal" fill="#111">Very strong</text><text x="351.1" y="596.05" font-size="8" text-anchor="middle" font-style="italic" font-weight="bold" fill="#111">Moderate</text><text x="351.1" y="613.8499999999999" font-size="13" font-weight="bold" text-anchor="middle" fill="#000">VII</text><text x="412.5" y="577.75" font-size="8" text-anchor="middle" font-style="normal" font-weight="normal" fill="#111">Severe</text><text x="412.5" y="596.05" font-size="8" text-anchor="middle" font-style="italic" font-weight="bold" fill="#111">Moderate/Heavy</text><text x="412.5" y="613.8499999999999" font-size="13" font-weight="bold" text-anchor="middle" fill="#000">VIII</text><text x="468.1" y="577.75" font-size="8" text-anchor="middle" font-style="normal" font-weight="normal" fill="#111">Violent</text><text x="468.1" y="596.05" font-size="8" text-anchor="middle" font-style="italic" font-weight="bold" fill="#111">Heavy</text><text x="468.1" y="613.8499999999999" font-size="13" font-weight="bold" text-anchor="middle" fill="#8c0000">IX</text><text x="514.8" y="577.75" font-size="8" text-anchor="middle" font-style="normal" font-weight="normal" fill="#111">Extreme</text><text x="514.8" y="596.05" font-size="8" text-anchor="middle" font-style="italic" font-weight="bold" fill="#111">Very Heavy</text><text x="514.8" y="613.8499999999999" font-size="13" font-weight="bold" text-anchor="middle" fill="#4a0000">X+</text><text x="72.5" y="633.4" font-size="9.1" fill="#333">Processed: Wed Dec 31 06:28:30 2025 vmdyfi1</text></svg>
</body></html>
